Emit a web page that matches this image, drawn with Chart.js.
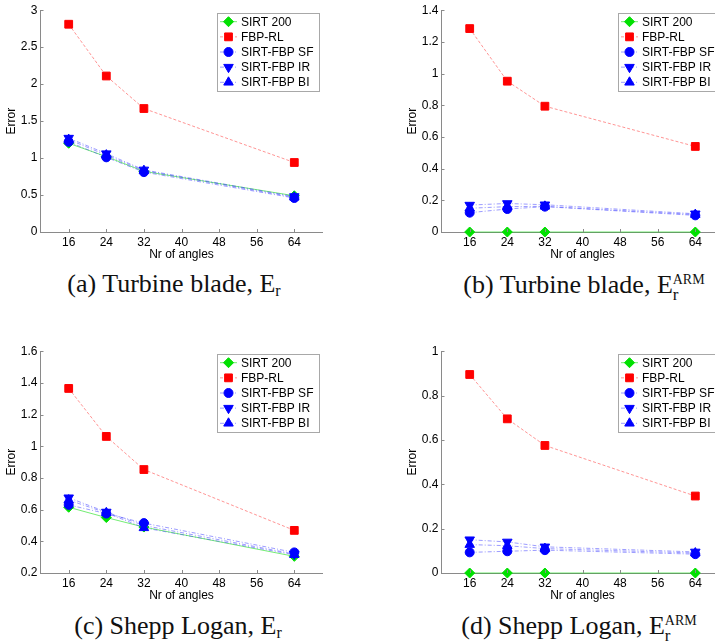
<!DOCTYPE html>
<html>
<head>
<meta charset="utf-8">
<script src="https://cdn.jsdelivr.net/npm/chart.js@4.4.1/dist/chart.umd.min.js"></script>
<style>
    html, body { margin: 0; padding: 0; background: #fff; overflow: hidden; }
    body { position: relative; width: 715px; height: 643px; }
    canvas { position: absolute; }
    .cap {
        position: absolute; white-space: nowrap; transform: translateX(-50%);
        font-family: 'Liberation Serif', 'DejaVu Serif', serif; font-size: 26px; line-height: 1; color: #111;
    }
    .cap sub { font-size: 16px; vertical-align: -4px; }
    .stack { display: inline-block; vertical-align: -7px; line-height: 1; font-size: 14px; text-align: left; }
    .stack span { display: block; }
    .stack .lo { font-size: 17px; margin-top: -1px; }
</style>
</head>
<body>
<canvas id="chartA" width="360" height="262" style="left:0px;top:0px"></canvas>
<canvas id="chartB" width="360" height="262" style="left:401px;top:0px"></canvas>
<canvas id="chartC" width="360" height="262" style="left:0px;top:341px"></canvas>
<canvas id="chartD" width="360" height="262" style="left:401px;top:341px"></canvas>

<div class="cap" style="left:174px;top:271px">(a) Turbine blade, E<sub>r</sub></div>
<div class="cap" style="left:584px;top:272px">(b) Turbine blade, E<span class="stack"><span>ARM</span><span class="lo">r</span></span></div>
<div class="cap" style="left:178px;top:613px">(c) Shepp Logan, E<sub>r</sub></div>
<div class="cap" style="left:579px;top:613px">(d) Shepp Logan, E<span class="stack"><span>ARM</span><span class="lo">r</span></span></div>

<script>
// ---------------- Data ------------------------------------------------------
const nAngles = [ 16, 24, 32, 64 ] ;
const xTicks  = [ 16, 24, 32, 40, 48, 56, 64 ] ;
const seriesNames = [ 'SIRT 200', 'FBP-RL', 'SIRT-FBP SF', 'SIRT-FBP IR', 'SIRT-FBP BI' ] ;

// (a) Turbine blade, E_r
const turbineErSirt  = [ 1.20, 1.02, 0.82, 0.49 ] ;
const turbineErFbp   = [ 2.81, 2.11, 1.67, 0.94 ] ;
const turbineErSF    = [ 1.22, 1.01, 0.81, 0.46 ] ;
const turbineErIR    = [ 1.27, 1.06, 0.84, 0.48 ] ;
const turbineErBI    = [ 1.25, 1.04, 0.83, 0.47 ] ;
const turbineErTicks = [ 0, 0.5, 1, 1.5, 2, 2.5, 3 ] ;

// (b) Turbine blade, E_r^ARM
const turbineArmSirt  = [ 0, 0, 0, 0 ] ;
const turbineArmFbp   = [ 1.284, 0.952, 0.794, 0.540 ] ;
const turbineArmSF    = [ 0.122, 0.145, 0.160, 0.105 ] ;
const turbineArmIR    = [ 0.170, 0.180, 0.172, 0.115 ] ;
const turbineArmBI    = [ 0.150, 0.160, 0.162, 0.110 ] ;
const turbineArmTicks = [ 0, 0.2, 0.4, 0.6, 0.8, 1, 1.2, 1.4 ] ;

// (c) Shepp Logan, E_r
const sheppErSirt  = [ 0.615, 0.550, 0.490, 0.305 ] ;
const sheppErFbp   = [ 1.365, 1.062, 0.853, 0.469 ] ;
const sheppErSF    = [ 0.630, 0.575, 0.515, 0.330 ] ;
const sheppErIR    = [ 0.675, 0.585, 0.500, 0.320 ] ;
const sheppErBI    = [ 0.660, 0.580, 0.485, 0.315 ] ;
const sheppErTicks = [ 0.2, 0.4, 0.6, 0.8, 1, 1.2, 1.4, 1.6 ] ;

// (d) Shepp Logan, E_r^ARM
const sheppArmSirt  = [ 0, 0, 0, 0 ] ;
const sheppArmFbp   = [ 0.895, 0.695, 0.575, 0.347 ] ;
const sheppArmSF    = [ 0.093, 0.098, 0.103, 0.085 ] ;
const sheppArmIR    = [ 0.150, 0.140, 0.118, 0.095 ] ;
const sheppArmBI    = [ 0.128, 0.123, 0.110, 0.090 ] ;
const sheppArmTicks = [ 0, 0.2, 0.4, 0.6, 0.8, 1 ] ;

// ---------------- Styles ----------------------------------------------------
const AXIS_COLOR = '#8a8a8a' ;
const FONT = { family: "'Liberation Sans', Arial, sans-serif", size: 12 } ;

const seriesStyles = [
    { marker: '#00e000', line: 'rgba(0,220,0,0.55)',  dash: [],        pointStyle: 'rectRot',  radius: 5,   rotation: 0   },
    { marker: '#ff0000', line: 'rgba(255,60,60,0.55)', dash: [3, 2],    pointStyle: 'rect',     radius: 5.5, rotation: 0   },
    { marker: '#0000ff', line: 'rgba(60,60,255,0.5)', dash: [4, 2, 1, 2], pointStyle: 'circle', radius: 4.5, rotation: 0   },
    { marker: '#0000ff', line: 'rgba(60,60,255,0.5)', dash: [4, 2, 1, 2], pointStyle: 'triangle', radius: 5.5, rotation: 180 },
    { marker: '#0000ff', line: 'rgba(60,60,255,0.5)', dash: [4, 2, 1, 2], pointStyle: 'triangle', radius: 5.5, rotation: 0   },
] ;

// ---------------- Plugins ---------------------------------------------------
const inwardTicks = {
    id: 'inwardTicks',
    afterDraw( chart ) {
        const ctx = chart.ctx ;
        const area = chart.chartArea ;
        const xs = chart.scales.x ;
        const ys = chart.scales.y ;
        ctx.save() ;
        ctx.strokeStyle = AXIS_COLOR ;
        ctx.lineWidth = 1 ;
        ctx.beginPath() ;
        xs.ticks.forEach( t => {
            const px = Math.round( xs.getPixelForValue( t.value ) ) + 0.5 ;
            ctx.moveTo( px, area.bottom ) ;
            ctx.lineTo( px, area.bottom - 3 ) ;
        } ) ;
        ys.ticks.forEach( t => {
            const py = Math.round( ys.getPixelForValue( t.value ) ) + 0.5 ;
            ctx.moveTo( area.left, py ) ;
            ctx.lineTo( area.left + 3, py ) ;
        } ) ;
        ctx.stroke() ;
        ctx.restore() ;
    }
} ;

const boxLegend = {
    id: 'boxLegend',
    afterDraw( chart ) {
        const ctx = chart.ctx ;
        const area = chart.chartArea ;
        const w = 102, h = 78, rowH = 15.15 ;
        const left = area.right - 3.5 - w ;
        const top = area.top + 2.5 ;

        ctx.save() ;
        ctx.fillStyle = '#fff' ;
        ctx.fillRect( left, top, w, h ) ;
        ctx.strokeStyle = '#a8a8a8' ;
        ctx.lineWidth = 1 ;
        ctx.strokeRect( Math.round( left ) + 0.5, Math.round( top ) + 0.5, w, h ) ;

        ctx.font = FONT.size + 'px ' + FONT.family ;
        ctx.textBaseline = 'middle' ;
        chart.data.datasets.forEach( ( ds, i ) => {
            const y = top + 9 + i * rowH ;
            ctx.strokeStyle = ds.borderColor ;
            ctx.setLineDash( ds.borderDash ) ;
            ctx.beginPath() ;
            ctx.moveTo( left + 3, y ) ;
            ctx.lineTo( left + 20, y ) ;
            ctx.stroke() ;
            ctx.setLineDash( [] ) ;
            ctx.fillStyle = ds.pointBackgroundColor ;
            ctx.strokeStyle = ds.pointBorderColor ;
            Chart.helpers.drawPoint( ctx, {
                pointStyle: ds.pointStyle, radius: ds.pointRadius,
                rotation: ds.pointRotation, borderWidth: 1
            }, left + 11.5, y ) ;
            ctx.fillStyle = '#000' ;
            ctx.fillText( ds.label, left + 24, y + 0.5 ) ;
        } ) ;
        ctx.restore() ;
    }
} ;

// ---------------- Chart creation --------------------------------------------
function makeDataset( i, values ) {
    const st = seriesStyles[ i ] ;
    return {
        label               : seriesNames[ i ],
        data                : nAngles.map( ( a, k ) => ( { x: a, y: values[ k ] } ) ),
        borderColor         : st.line,
        borderDash          : st.dash,
        borderWidth         : 1,
        pointStyle          : st.pointStyle,
        pointRadius         : st.radius,
        pointRotation       : st.rotation,
        pointBackgroundColor: st.marker,
        pointBorderColor    : st.marker,
        pointBorderWidth    : 1,
        tension             : 0,
        clip                : false,
        order               : 4 - i,
    } ;
}

function makeChart( canvasId, seriesValues, yTicks ) {
    const canvas = document.getElementById( canvasId ) ;
    return new Chart( canvas, {
        type: 'line',
        data: {
            datasets: seriesValues.map( ( v, i ) => makeDataset( i, v ) )
        },
        options: {
            responsive: false,
            animation: false,
            events: [],
            layout: { padding: { left: 0, top: 10, right: 37.5, bottom: 0 } },
            plugins: {
                legend: { display: false },
                tooltip: { enabled: false },
            },
            scales: {
                x: {
                    type: 'linear',
                    min: 10,
                    max: 70,
                    afterBuildTicks: s => { s.ticks = xTicks.map( v => ( { value: v } ) ) ; },
                    afterFit: s => { s.height = 30 ; },
                    grid: { display: true, drawOnChartArea: false, drawTicks: false },
                    border: { display: true, color: AXIS_COLOR, width: 1 },
                    ticks: { color: '#000', font: FONT, padding: 3, maxRotation: 0 },
                    title: { display: true, text: 'Nr of angles', color: '#000', font: FONT, padding: 0 },
                },
                y: {
                    type: 'linear',
                    min: yTicks[ 0 ],
                    max: yTicks[ yTicks.length - 1 ],
                    afterBuildTicks: s => { s.ticks = yTicks.map( v => ( { value: v } ) ) ; },
                    afterFit: s => { s.width = 40.5 ; },
                    grid: { display: true, drawOnChartArea: false, drawTicks: false },
                    border: { display: true, color: AXIS_COLOR, width: 1 },
                    ticks: {
                        color: '#000', font: FONT, padding: 3,
                        callback: v => String( +Number( v ).toFixed( 2 ) )
                    },
                    title: { display: true, text: 'Error', color: '#000', font: FONT, padding: { top: 4, bottom: 0 } },
                }
            }
        },
        plugins: [ inwardTicks, boxLegend ]
    } ) ;
}

makeChart( 'chartA', [ turbineErSirt, turbineErFbp, turbineErSF, turbineErIR, turbineErBI ], turbineErTicks ) ;
makeChart( 'chartB', [ turbineArmSirt, turbineArmFbp, turbineArmSF, turbineArmIR, turbineArmBI ], turbineArmTicks ) ;
makeChart( 'chartC', [ sheppErSirt, sheppErFbp, sheppErSF, sheppErIR, sheppErBI ], sheppErTicks ) ;
makeChart( 'chartD', [ sheppArmSirt, sheppArmFbp, sheppArmSF, sheppArmIR, sheppArmBI ], sheppArmTicks ) ;
</script>
</body>
</html>
